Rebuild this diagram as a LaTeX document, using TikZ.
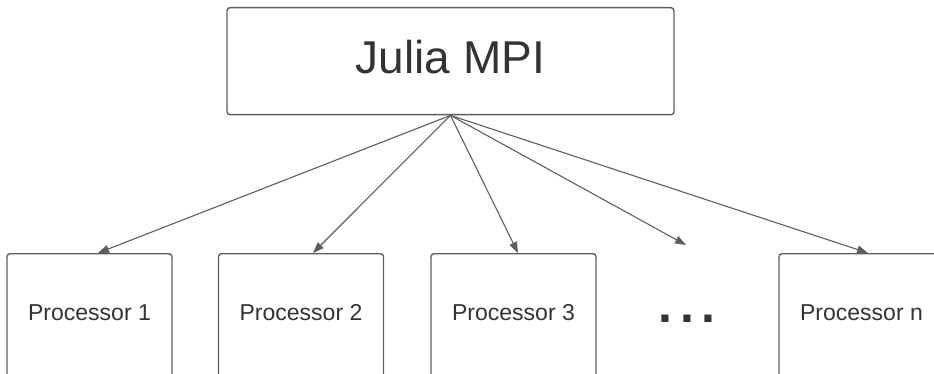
\documentclass[tikz,border=0pt]{standalone}
\usepackage{fontspec}
\setmainfont{Liberation Sans}
\usetikzlibrary{arrows.meta,calc}
\definecolor{edge}{HTML}{5E5E5E}
\definecolor{ink}{HTML}{333333}
\tikzset{
  box/.style={draw=edge, line width=1.4pt, rounded corners=3pt, fill=white,
              inner sep=0pt, text=ink, align=center},
  topbox/.style={box, minimum width=447pt, text height=66pt, text depth=41pt,
                 font=\fontsize{46}{50}\selectfont, anchor=north},
  procbox/.style={box, minimum width=165pt, text height=67pt, text depth=75pt,
                  font=\fontsize{23}{26}\selectfont, anchor=north},
  link/.style={draw=edge, line width=1.1pt,
               -{Triangle[length=11pt,width=8pt]}},
}
\begin{document}
\begin{tikzpicture}[x=1pt, y=-1pt]
  \useasboundingbox (0,0) rectangle (934,374);
  \clip (0,0) rectangle (934,374);

  % controller
  \node[topbox] (mpi) at (450.5,7) {Julia MPI};

  % worker processes
  \node[procbox] (p1) at (89.5,253) {Processor 1};
  \node[procbox] (p2) at (301,253) {Processor 2};
  \node[procbox] (p3) at (513.5,253) {Processor 3};
  \node[procbox] (pn) at (861.5,253) {Processor n};

  % ellipsis between processor 3 and n
  \node[text=ink, inner sep=0pt, anchor=base,
        font=\fontsize{50}{50}\bfseries\selectfont] (dots) at (687,322)
        {.\kern8pt.\kern8pt.};
  \coordinate (more) at (686,245);

  % connections
  \draw[link] (mpi.south) -- ($(p1.north)+(8.5,0)$);
  \draw[link] (mpi.south) -- ($(p2.north)+(12,0)$);
  \draw[link] (mpi.south) -- ($(p3.north)+(4.5,0)$);
  \draw[link] (mpi.south) -- (more);
  \draw[link] (mpi.south) -- ($(pn.north)+(6.5,0)$);
\end{tikzpicture}
\end{document}
